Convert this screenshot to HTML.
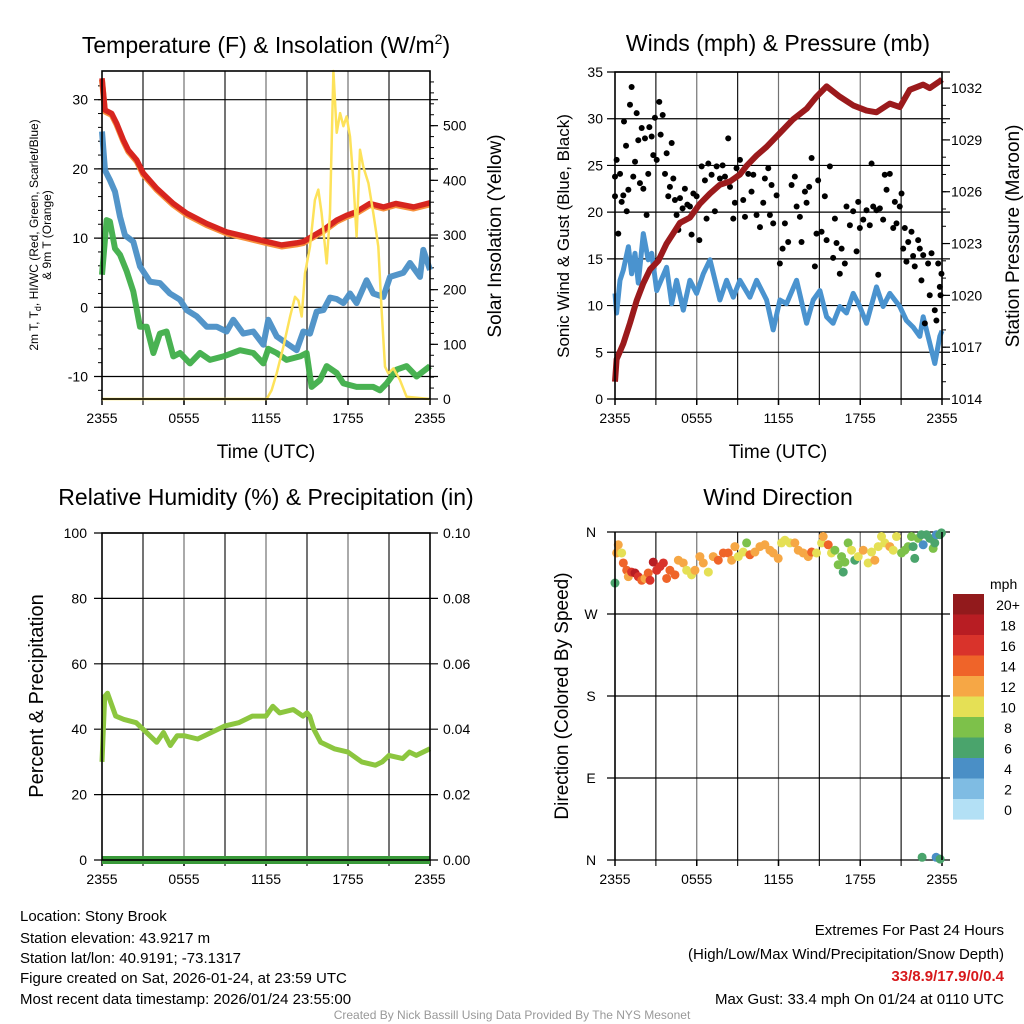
<!DOCTYPE html>
<html><head><meta charset="utf-8">
<style>
html,body{margin:0;padding:0;background:#fff;}
svg{display:block;font-family:"Liberation Sans",Arial,sans-serif;}
</style></head>
<body>
<svg id="chart" width="1024" height="1024" viewBox="0 0 1024 1024" xmlns="http://www.w3.org/2000/svg">
<rect width="1024" height="1024" fill="#fff"/>
<!-- titles -->
<text x="266" y="53" font-size="23" text-anchor="middle">Temperature (F) &amp; Insolation (W/m<tspan font-size="14" dy="-9">2</tspan><tspan dy="9">)</tspan></text>
<text x="778" y="51" font-size="23" text-anchor="middle">Winds (mph) &amp; Pressure (mb)</text>
<text x="266" y="505" font-size="23" text-anchor="middle">Relative Humidity (%) &amp; Precipitation (in)</text>
<text x="778" y="505" font-size="23" text-anchor="middle">Wind Direction</text>
<!-- axis titles -->
<text x="266" y="458" font-size="19" text-anchor="middle">Time (UTC)</text>
<text x="778" y="458" font-size="19" text-anchor="middle">Time (UTC)</text>
<text transform="translate(38,235) rotate(-90)" font-size="12" text-anchor="middle">2m T, T<tspan font-size="9" dy="3">d</tspan><tspan dy="-3">, HI/WC (Red, Green, Scarlet/Blue)</tspan></text>
<text transform="translate(51,235) rotate(-90)" font-size="12" text-anchor="middle">&amp; 9m T (Orange)</text>
<text transform="translate(501,236) rotate(-90)" font-size="19" text-anchor="middle">Solar Insolation (Yellow)</text>
<text transform="translate(569,236) rotate(-90)" font-size="17" text-anchor="middle">Sonic Wind &amp; Gust (Blue, Black)</text>
<text transform="translate(1019,236) rotate(-90)" font-size="19" text-anchor="middle">Station Pressure (Maroon)</text>
<text transform="translate(43,696) rotate(-90)" font-size="20" text-anchor="middle">Percent &amp; Precipitation</text>
<text transform="translate(568,696) rotate(-90)" font-size="19" text-anchor="middle">Direction (Colored By Speed)</text>
<!-- footer -->
<g font-size="15" fill="#000">
<text x="20" y="921">Location: Stony Brook</text>
<text x="20" y="943">Station elevation: 43.9217 m</text>
<text x="20" y="963">Station lat/lon: 40.9191; -73.1317</text>
<text x="20" y="983">Figure created on Sat, 2026-01-24, at 23:59 UTC</text>
<text x="20" y="1004">Most recent data timestamp: 2026/01/24 23:55:00</text>
</g>
<g font-size="15" text-anchor="end">
<text x="1004" y="935">Extremes For Past 24 Hours</text>
<text x="1004" y="959">(High/Low/Max Wind/Precipitation/Snow Depth)</text>
<text x="1004" y="981" fill="#d7191c" font-weight="bold">33/8.9/17.9/0/0.4</text>
<text x="1004" y="1004">Max Gust: 33.4 mph On 01/24 at 0110 UTC</text>
</g>
<text x="512" y="1019" font-size="12" fill="#999" text-anchor="middle">Created By Nick Bassill Using Data Provided By The NYS Mesonet</text>
</svg>
<script>
// ---------- DATA ----------
const timeTickLabels = ["2355","0555","1155","1755","2355"];
const tempTicks = [30,20,10,0,-10];
const solarTicks = [0,100,200,300,400,500];
const windTicks = [0,5,10,15,20,25,30,35];
const pressTicks = [1014,1017,1020,1023,1026,1029,1032];
const rhTicks = [0,20,40,60,80,100];
const precipTickLabels = ["0.00","0.02","0.04","0.06","0.08","0.10"];
const dirTickLabels = ["N","W","S","E","N"];
const dirTickValues = [360,270,180,90,0];
const speedBinLabels = ["20+","18","16","14","12","10","8","6","4","2","0"];
const speedBinColors = ["#921a1c","#b81d23","#d9332b","#ef6429","#f6a745","#e5e055","#7dc14a","#4aa46c","#4a8fc6","#7fbce3","#b3e0f5"];

const tempHours = [0,0.22,0.71,1.07,1.56,1.93,2.54,3.02,4.0,5.22,6.2,7.66,9.12,10.58,12.05,13.14,14.24,14.73,16.2,17.17,17.9,18.6,19.6,20.6,21.5,22.8,24];
const tempVals  = [33.1,28.5,28.0,26.6,24.2,22.7,21.3,19.4,17.2,15.0,13.6,12.1,10.9,10.2,9.5,9.0,9.3,9.5,11.2,12.6,13.3,13.8,15.0,14.5,15.0,14.5,15.1];

const dewHours = [0,0.22,0.58,0.95,1.32,1.68,2.29,2.78,3.51,4.24,4.97,5.71,6.2,6.93,7.66,8.39,9.12,9.61,10.34,11.07,11.8,12.17,12.78,13.51,14.24,14.73,15.22,15.71,16.2,16.68,17.17,17.66,18.15,18.63,19.36,19.85,20.58,21.07,22.05,22.54,23.27,23.51,24];
const dewVals  = [25.4,19.8,18.4,16.7,13.1,10.4,9.5,5.9,3.7,3.5,2.0,1.1,-0.4,-1.3,-2.8,-2.8,-3.5,-1.8,-3.8,-3.5,-5.4,-1.8,-4.2,-5.2,-6.2,-3.5,-3.8,-0.6,-0.4,1.4,1.2,0.6,2.0,0.6,3.9,2.0,1.5,4.4,5.0,6.4,4.4,8.3,5.4];

const wcHours = [0,0.34,0.58,0.95,1.32,1.81,2.29,2.78,3.27,3.76,4.24,4.73,5.22,5.71,6.44,7.17,7.9,8.88,10.1,11.07,11.8,12.17,12.78,13.51,14.49,14.97,15.34,15.95,16.44,17.17,17.66,18.63,19.85,20.34,20.83,21.56,22.29,23.02,24];
const wcVals  = [4.7,12.6,12.4,8.5,7.6,5.2,2.3,-2.8,-2.8,-6.6,-3.8,-3.5,-7.1,-6.6,-8.1,-6.6,-7.6,-7.1,-6.2,-6.6,-8.1,-6.0,-6.6,-7.6,-7.1,-6.6,-11.5,-10.5,-8.5,-9.5,-11.0,-11.5,-11.5,-12.0,-11.0,-9.0,-8.5,-10.0,-8.5];

const solarHours = [0,12.05,12.41,12.78,13.27,13.76,14.12,14.37,14.61,14.85,15.22,15.58,15.83,16.07,16.44,16.68,16.93,17.17,17.42,17.66,17.9,18.15,18.39,18.63,18.88,19.12,19.49,19.85,20.22,20.46,20.71,20.95,21.32,21.8,22.29,24];
const solarVals  = [0,0,16,47,96,151,187,180,151,230,279,364,383,340,248,340,600,487,523,499,517,480,401,297,456,425,395,340,279,163,59,47,56,35,4,0];

const pressHours = [0,0.12,0.61,1.1,1.59,2.08,2.57,3.18,3.79,4.28,4.77,5.5,6.23,6.97,7.7,8.44,9.17,9.66,10.39,11.13,12.1,13.08,14.06,14.79,15.53,16.5,17.48,18.46,19.19,20.17,20.9,21.64,22.62,23.1,23.84,24];
const pressVals  = [1015.0,1016.3,1017.2,1018.4,1019.7,1020.7,1021.5,1022.0,1023.0,1023.6,1024.2,1024.5,1025.3,1025.9,1026.4,1026.6,1027.0,1027.5,1028.1,1028.6,1029.4,1030.2,1030.8,1031.5,1032.1,1031.5,1031.0,1030.7,1030.6,1031.1,1030.9,1031.9,1032.2,1032.0,1032.4,1032.5];

const windHours = [0,0.12,0.37,0.61,0.98,1.22,1.47,1.71,2.08,2.44,2.69,3.06,3.79,4.16,4.52,5.01,5.5,5.99,6.48,6.97,7.7,8.19,8.68,9.17,9.9,10.39,11.13,11.61,12.1,12.59,13.33,14.06,14.55,15.04,15.53,16.01,16.5,16.99,17.48,17.97,18.46,19.19,19.68,20.17,20.9,21.39,21.88,22.37,22.62,23.1,23.47,23.84,24];
const windVals  = [11.3,9.2,12.7,13.8,16.3,13.4,15.6,12.4,17.7,14.9,15.6,11.6,14.1,10.2,12.7,9.5,12.7,11.3,13.4,14.9,10.6,12.7,10.9,12.7,10.9,12.7,10.6,7.4,10.6,10.2,12.7,8.1,10.6,11.6,8.8,8.1,9.9,9.2,11.3,9.9,8.1,12.0,9.9,11.3,9.9,8.4,7.7,6.7,8.8,6.0,3.8,6.7,7.3];

const gustHours = [0,0.12,0,0.24,0.37,0.49,0.61,0.66,0.81,0.86,0.98,1.1,1.22,1.34,1.47,1.59,1.71,1.83,1.96,2.08,2.2,2.32,2.44,2.52,2.69,2.81,2.93,3.06,3.25,3.35,3.5,3.67,3.79,3.91,4.03,4.16,4.28,4.4,4.52,4.65,4.77,4.96,5.13,5.31,5.5,5.62,5.75,5.99,6.19,6.36,6.6,6.72,6.85,7.09,7.33,7.46,7.7,7.9,8.07,8.31,8.44,8.68,8.8,8.92,9.17,9.41,9.54,9.78,10.02,10.15,10.39,10.64,10.88,11.0,11.25,11.37,11.49,11.61,11.86,12.1,12.3,12.47,12.71,12.96,13.2,13.33,13.57,13.69,13.94,14.06,14.25,14.43,14.67,14.79,14.91,15.16,15.4,15.53,15.77,16.01,16.14,16.26,16.5,16.63,16.87,16.99,17.24,17.48,17.73,17.85,17.97,18.22,18.46,18.7,18.83,18.95,19.19,19.32,19.44,19.68,19.8,19.93,20.17,20.42,20.54,20.66,20.9,21.03,21.15,21.27,21.39,21.52,21.76,21.88,22.0,22.25,22.37,22.49,22.62,22.74,22.98,23.1,23.23,23.47,23.59,23.72,23.84,23.89,23.96];
const gustVals  = [21.7,25.6,23.8,17.7,24.1,21.1,21.8,29.7,27.1,20.1,22.4,31.5,33.4,23.8,25.4,30.6,27.7,23.1,29.0,22.5,27.9,19.7,24.1,29.1,28.1,26.1,30.1,25.6,31.8,28.3,30.4,24.1,26.3,21.7,22.7,27.4,23.6,21.3,19.7,18.1,21.5,20.4,22.5,20.8,20.6,17.6,22.0,21.7,17.0,24.9,23.4,19.3,25.2,24.0,20.1,24.9,23.6,25.0,23.8,27.9,22.7,19.3,21.0,24.7,25.6,21.3,19.5,24.1,22.2,24.0,19.7,18.4,21.0,23.6,24.7,19.7,22.9,18.8,21.8,14.5,16.1,18.8,16.8,22.9,23.8,20.6,19.5,16.8,22.2,21.0,22.7,25.8,14.2,17.7,23.4,17.9,21.7,17.0,24.9,15.1,19.3,16.7,13.4,16.1,14.5,20.6,18.6,20.1,15.8,21.1,18.3,19.2,20.2,18.6,25.2,20.6,20.2,13.3,20.4,19.2,24.0,22.4,24.1,18.3,21.1,18.8,20.6,22.0,16.1,18.3,14.7,16.8,17.9,15.3,14.2,17.0,16.1,12.7,15.4,8.1,14.5,11.1,15.6,9.5,8.4,14.5,12.0,11.1,13.4];

const rhHours = [0,0.2,0.4,1,1.6,2.5,3.0,3.5,4,4.5,5,5.5,6,7,8,9,10,11,12,12.5,13,14,14.7,15,15.2,15.5,16,17,18,19,20,20.5,21,22,22.5,23,24];
const rhVals  = [30,50,51,44,43,42,40,38,36,39,35,38,38,37,39,41,42,44,44,47,45,46,44,45,44,40,36,34,33,30,29,30,32,31,33,32,34];
const precipHours = [0,24];
const precipVals = [0,0];

const dirHours = [0,0.12,0.24,0.49,0.61,0.86,0.98,1.22,1.47,1.71,1.96,2.2,2.44,2.57,2.81,3.06,3.3,3.55,3.79,4.03,4.4,4.65,5.01,5.26,5.62,5.87,6.23,6.48,6.85,7.21,7.58,7.95,8.31,8.56,8.8,9.05,9.41,9.66,9.9,10.27,10.64,11.0,11.37,11.61,11.98,12.22,12.47,12.84,13.2,13.45,13.81,14.18,14.43,14.79,15.16,15.28,15.65,15.89,16.14,16.38,16.63,16.75,16.87,17.11,17.36,17.6,17.85,18.22,18.58,18.83,19.07,19.32,19.56,19.8,20.17,20.42,20.66,21.03,21.27,21.52,21.76,21.88,22.0,22.25,22.49,22.62,22.86,23.1,23.35,23.47,23.59,23.84,23.96,22.54,23.57,23.86];
const dirVals  = [304,337,346,337,326,318,311,316,315,311,307,309,315,307,327,318,322,326,309,318,313,329,326,318,313,318,333,326,316,333,329,337,337,329,344,333,338,348,335,338,344,346,340,337,331,348,351,348,348,340,337,333,338,337,348,355,346,337,340,324,333,316,327,348,340,329,333,340,326,338,329,344,355,348,344,340,355,337,340,344,355,344,331,353,357,346,357,353,342,348,357,357,359,3,3,1];
const dirSpeeds = [7,12,12,10,14,14,12,16,18,16,14,13,14,16,18,16,17,16,14,15,14,12,12,11,10,12,12,12,11,13,14,15,14,13,12,11,11,8,15,12,12,12,12,13,12,10,11,10,12,12,13,12,15,11,11,12,14,10,8,8,9,6,8,9,10,7,10,12,10,11,13,11,10,11,13,10,10,8,9,8,8,7,6,8,6,4,6,6,8,7,4,7,6,6,4,6];

// ---------- HELPERS ----------
const svg = document.getElementById('chart');
const NS = 'http://www.w3.org/2000/svg';
function mk(tag, attrs, name, inter, parent) {
  const el = document.createElementNS(NS, tag);
  for (const k in attrs) el.setAttribute(k, attrs[k]);
  
  
  (parent || svg).appendChild(el);
  return el;
}
function linScale(d0, d1, r0, r1) { return v => r0 + (v - d0) / (d1 - d0) * (r1 - r0); }
function pathFrom(xs, ys, xf, yf) {
  let d = '';
  for (let i = 0; i < xs.length; i++) d += (i ? 'L' : 'M') + xf(xs[i]).toFixed(1) + ',' + yf(ys[i]).toFixed(1);
  return d;
}
function speedColor(s) {
  const idx = Math.min(10, Math.floor(s / 2));
  return speedBinColors[10 - idx];
}

const P1 = {x0:102, x1:430, y0:71, y1:399};
const P2 = {x0:615, x1:942, y0:72, y1:399};
const P3 = {x0:102, x1:430, y0:533, y1:860};
const P4 = {x0:615, x1:942, y0:532, y1:860};

function drawFrame(P, key) {
  const xs = linScale(0, 24, P.x0, P.x1);
  const g = mk('g', {}, key + '-grid', false);
  for (let h = 3; h < 24; h += 3) {
    mk('line', {x1:xs(h), x2:xs(h), y1:P.y0, y2:P.y1 + 6, stroke:'#000', 'stroke-width':1.2, opacity:(h % 6 === 0 ? 0.55 : 0.9)}, key + '-vgrid', false, g);
  }
  for (let i = 0; i < timeTickLabels.length; i++) {
    const h = i * 6;
    mk('line', {x1:xs(h), x2:xs(h), y1:P.y1, y2:P.y1 + 6, stroke:'#000', 'stroke-width':1.5}, key + '-x-tick', false, g);
    const t = mk('text', {x:xs(h), y:P.y1 + 24, 'font-size':14, 'text-anchor':'middle'}, key + '-x-tick-label', false, g);
    t.textContent = timeTickLabels[i];
  }
  return xs;
}
function drawBorder(P, key) {
  mk('rect', {x:P.x0, y:P.y0, width:P.x1 - P.x0, height:P.y1 - P.y0, fill:'none', stroke:'#000', 'stroke-width':1.6}, key + '-frame', false);
}
function hgrid(P, y, key) {
  mk('line', {x1:P.x0 - 8, x2:P.x1 + 8, y1:y, y2:y, stroke:'#000', 'stroke-width':1.2}, key + '-hgrid', false);
}
function label(x, y, txt, anchor, key, size) {
  const t = mk('text', {x:x, y:y + 5, 'font-size':size || 14, 'text-anchor':anchor}, key, false);
  t.textContent = txt;
}

// ---------- PANEL 1 ----------
(function(){
  const xs = drawFrame(P1, 'temp');
  const yT = linScale(0, 10, 307.3, 238.1);
  const yS = linScale(0, 600, 399, 71);
  tempTicks.forEach(v => { hgrid(P1, yT(v), 'temp'); label(88, yT(v), String(v), 'end', 'temp-y-tick-label'); });
  solarTicks.forEach(v => { label(443, yS(v), String(v), 'start', 'solar-y-tick-label');
    mk('line', {x1:P1.x1, x2:P1.x1 + 8, y1:yS(v), y2:yS(v), stroke:'#000', 'stroke-width':1.2}, 'solar-y-tick', false); });
  for (let v = 20; v < 600; v += 20) mk('line', {x1:P1.x1, x2:P1.x1 + 4, y1:yS(v), y2:yS(v), stroke:'#000', 'stroke-width':1}, 'solar-minor-tick', false);
  for (let v = -12; v < 34; v += 2) mk('line', {x1:P1.x0 - 4, x2:P1.x0, y1:yT(v), y2:yT(v), stroke:'#000', 'stroke-width':1}, 'temp-minor-tick', false);
  mk('path', {d:pathFrom(wcHours, wcVals, xs, yT), fill:'none', stroke:'#3fae49', 'stroke-width':6, 'stroke-linejoin':'round', opacity:0.95}, 'heat-index-windchill-line', false);
  mk('path', {d:pathFrom(dewHours, dewVals, xs, yT), fill:'none', stroke:'#4a8fc6', 'stroke-width':6, 'stroke-linejoin':'round', opacity:0.95}, 'dewpoint-line', false);
  mk('path', {d:pathFrom(tempHours, tempVals, xs, yT), fill:'none', stroke:'#f7903c', 'stroke-width':6, 'stroke-linejoin':'round', transform:'translate(0,1.5)'}, 'temp-9m-line', false);
  mk('path', {d:pathFrom(tempHours, tempVals, xs, yT), fill:'none', stroke:'#d7251f', 'stroke-width':5.5, 'stroke-linejoin':'round'}, 'temp-2m-line', false);
  mk('path', {d:pathFrom(solarHours, solarVals, xs, yS), fill:'none', stroke:'#fde25a', 'stroke-width':2.5, 'stroke-linejoin':'round'}, 'solar-insolation-line', false);
  drawBorder(P1, 'temp');
})();

// ---------- PANEL 2 ----------
(function(){
  const xs = drawFrame(P2, 'wind');
  const yW = linScale(0, 35, 399, 72);
  const yP = linScale(1014, 1032, 399, 88.1);
  windTicks.forEach(v => { hgrid(P2, yW(v), 'wind'); label(603, yW(v), String(v), 'end', 'wind-y-tick-label'); });
  pressTicks.forEach(v => { label(951, yP(v), String(v), 'start', 'pressure-y-tick-label');
    mk('line', {x1:P2.x1, x2:P2.x1 + 8, y1:yP(v), y2:yP(v), stroke:'#000', 'stroke-width':1.2}, 'pressure-y-tick', false); });
  for (let v = 1015; v < 1033; v++) mk('line', {x1:P2.x1, x2:P2.x1 + 4, y1:yP(v), y2:yP(v), stroke:'#000', 'stroke-width':1}, 'pressure-minor-tick', false);
  mk('path', {d:pathFrom(windHours, windVals, xs, yW), fill:'none', stroke:'#4a93cf', 'stroke-width':5, 'stroke-linejoin':'round'}, 'sonic-wind-line', false);
  const g = mk('g', {}, 'gust-points', false);
  for (let i = 0; i < gustHours.length; i++) {
    mk('circle', {cx:xs(gustHours[i]), cy:yW(gustVals[i]), r:3, fill:'#000'}, 'gust-point', false, g);
  }
  mk('path', {d:pathFrom(pressHours, pressVals, xs, yP), fill:'none', stroke:'#9b1a1c', 'stroke-width':6, 'stroke-linejoin':'round'}, 'pressure-line', false);
  drawBorder(P2, 'wind');
})();

// ---------- PANEL 3 ----------
(function(){
  const xs = drawFrame(P3, 'rh');
  const yR = linScale(0, 100, 860, 533);
  rhTicks.forEach((v, i) => { hgrid(P3, yR(v), 'rh'); label(87, yR(v), String(v), 'end', 'rh-y-tick-label');
    label(443, yR(v), precipTickLabels[i], 'start', 'precip-y-tick-label'); });
  mk('path', {d:pathFrom(rhHours, rhVals, xs, yR), fill:'none', stroke:'#8cc63f', 'stroke-width':5, 'stroke-linejoin':'round'}, 'relative-humidity-line', false);
  mk('path', {d:pathFrom(precipHours, precipVals, xs, yR), fill:'none', stroke:'#3a9a3a', 'stroke-width':8}, 'precipitation-line', false);
  drawBorder(P3, 'rh');
})();

// ---------- PANEL 4 ----------
(function(){
  const xs = drawFrame(P4, 'dir');
  const yD = linScale(0, 360, 860, 532);
  dirTickValues.forEach((v, i) => { hgrid(P4, yD(v), 'dir'); label(591, yD(v), dirTickLabels[i], 'middle', 'dir-y-tick-label'); });
  const g = mk('g', {}, 'direction-points', false);
  for (let i = 0; i < dirHours.length; i++) {
    mk('circle', {cx:xs(dirHours[i]), cy:yD(dirVals[i]), r:4.5, fill:speedColor(dirSpeeds[i])}, 'direction-point', false, g);
  }
  mk('line', {x1:P4.x0, x2:P4.x0, y1:P4.y0, y2:P4.y1, stroke:'#000', 'stroke-width':1.6}, 'dir-left-axis', false);
  mk('line', {x1:P4.x1, x2:P4.x1, y1:P4.y0, y2:P4.y1, stroke:'#000', 'stroke-width':1.6}, 'dir-right-axis', false);
  // colorbar
  const lg = mk('g', {}, 'speed-colorbar', false);
  const t = mk('text', {x:990, y:589, 'font-size':14}, 'colorbar-unit-label', false, lg);
  t.textContent = 'mph';
  for (let i = 0; i < speedBinLabels.length; i++) {
    const y = 594 + i * 20.5;
    mk('rect', {x:953, y:y, width:31, height:20.6, fill:speedBinColors[i]}, 'colorbar-bin', false, lg);
    const tl = mk('text', {x:1008, y:y + 16, 'font-size':14, 'text-anchor':'middle'}, 'colorbar-bin-label', false, lg);
    tl.textContent = speedBinLabels[i];
  }
})();
</script>
</body></html>
